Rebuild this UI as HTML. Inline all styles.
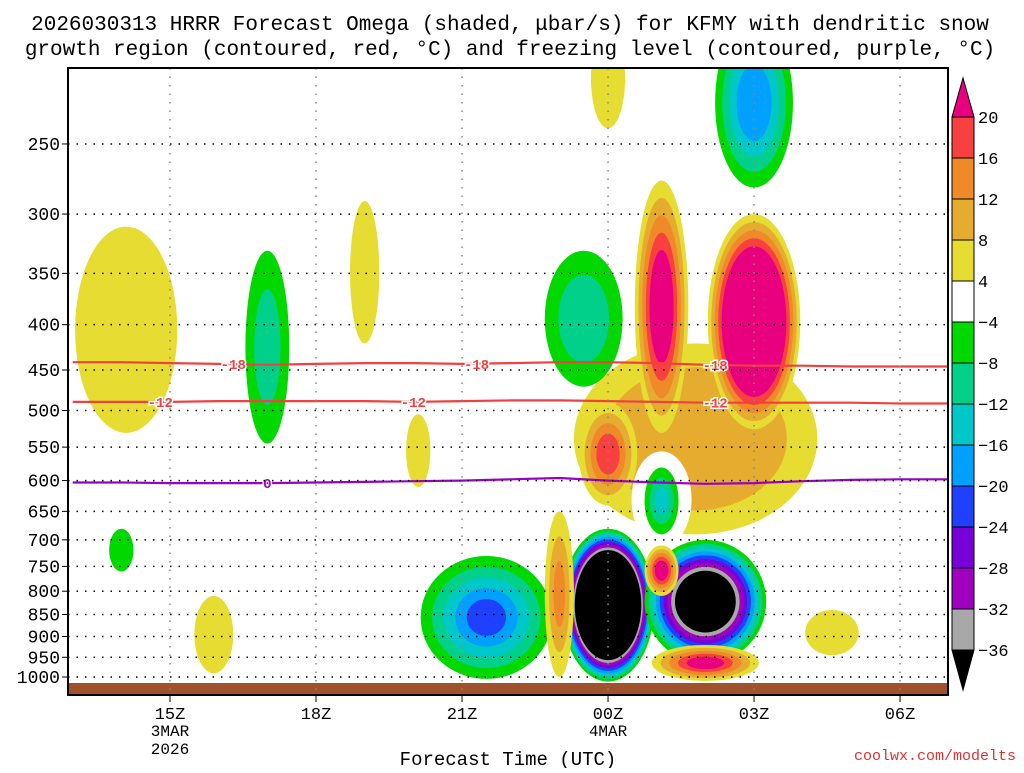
<!DOCTYPE html>
<html><head><meta charset="utf-8"><style>
body{margin:0;background:#fff;width:1024px;height:768px;overflow:hidden}
svg text{font-family:"Liberation Mono","DejaVu Sans Mono",monospace}
</style></head><body>
<svg id="chart" width="1024" height="768" xmlns="http://www.w3.org/2000/svg">
<text x="510" y="30" font-size="21" text-anchor="middle">2026030313 HRRR Forecast Omega (shaded, μbar/s) for KFMY with dendritic snow</text>
<text x="510" y="55" font-size="21" text-anchor="middle">growth region (contoured, red, °C) and freezing level (contoured, purple, °C)</text>
<g id="plot"></g>
<text x="508" y="765" font-size="19" text-anchor="middle">Forecast Time (UTC)</text>
<text x="1016" y="760" font-size="15" fill="#e03030" text-anchor="end">coolwx.com/modelts</text>
<g id="cbar"></g>
</svg>
<script>
const pLevels=[250,300,350,400,450,500,550,600,650,700,750,800,850,900,950,1000];
const xTickHours=[2,5,8,11,14,17];
const xTickLabels=["15Z","18Z","21Z","00Z","03Z","06Z"];
const palette=["#000000","#a8a8a8","#a000c0","#7800d8","#2040ff","#00a0ff","#00c8c8","#00d08a","#00d800","#ffffff","#e6dc32","#e6ac30","#f08a28","#f84040","#e8007f"];
const cbarLabels=["20","16","12","8","4","\u22124","\u22128","\u221212","\u221216","\u221220","\u221224","\u221228","\u221232","\u221236"];
// blobs: forecast hour center, top/bottom pressure, half-width (hours), outer and inner palette index, core relative size
const blobTime=[1.1,4.0,6.0,7.1,1.0,2.9,11.0,12.8,10.5,12.1,14.0,14.0,11.0,12.1,11.0,13.0,8.5,10.0,12.1,13.0,15.6];
const blobPTop=[310,330,290,505,680,810,185,420,330,275,180,300,490,580,680,700,730,650,710,920,840];
const blobPBot=[530,545,420,610,760,990,240,690,470,530,280,525,640,690,1012,965,1005,1000,810,1010,945];
const blobHalfW=[1.05,0.45,0.3,0.25,0.25,0.4,0.35,2.5,0.8,0.55,0.8,0.95,0.6,0.35,0.95,1.25,1.35,0.3,0.35,1.1,0.55];
const blobOuter=[10,8,10,10,8,10,10,10,8,10,8,10,10,8,8,8,8,10,10,10,10];
const blobInner=[10,7,10,10,8,10,10,11,7,14,5,14,13,6,0,0,4,12,14,14,10];
const blobCore=[1,0.6,1,1,1,1,1,0.75,0.65,0.45,0.45,0.7,0.4,0.4,0.72,0.5,0.3,0.4,0.4,0.35,1];
// temperature contour lines (pressure at each forecast hour 0..18)
const lineHours=[0,1,2,3,4,5,6,7,8,9,10,11,12,13,14,15,16,17,18];
const isoM18=[441,441,442,443,444,443,442,442,443,442,441,441,442,444,445,445,446,446,446];
const isoM12=[489,489,489,488,488,488,488,489,488,487,487,488,489,490,490,490,490,491,491];
const iso0=[603,603,604,604,604,603,602,601,600,598,596,600,603,605,604,601,599,598,598];
const isoLabels=[["-18",3.3,"m18"],["-18",8.3,"m18"],["-18",13.2,"m18"],["-12",1.8,"m12"],["-12",7.0,"m12"],["-12",13.2,"m12"],["0",4.0,"z"]];

const NS="http://www.w3.org/2000/svg";
const L=68,R=948,T=68,B=695;
function xh(h){return 170+(h-2)*48.67;}
function yp(p){return 677-Math.log(1000/p)*384.5;}
function mk(tag,attrs,parent){const e=document.createElementNS(NS,tag);for(const k in attrs)e.setAttribute(k,attrs[k]);parent.appendChild(e);return e;}
const plot=document.getElementById('plot');
const defs=mk('defs',{},plot);
const cp=mk('clipPath',{id:'clip'},defs);mk('rect',{x:L,y:T,width:R-L,height:B-T},cp);
const fg=mk('g',{'clip-path':'url(#clip)'},plot);


for(let i=0;i<blobTime.length;i++){
  const o=blobOuter[i],inn=blobInner[i];
  const step=inn>=o?1:-1;const n=Math.abs(inn-o)+1;
  const cx=xh(blobTime[i]);const y1=yp(blobPTop[i]),y2=yp(blobPBot[i]);
  const cy=(y1+y2)/2,ry=(y2-y1)/2,rx=blobHalfW[i]*48.67;
  for(let k=0;k<n;k++){
    const s=n>1?1-(1-blobCore[i])*k/(n-1):1;
    const e=mk('ellipse',{cx:cx,cy:cy,rx:rx*s,ry:ry*s,fill:palette[o+step*k]},fg);
    
    
  }
  if(i===7){
    const h=mk('ellipse',{cx:xh(12.1),cy:yp(630),rx:30,ry:48,fill:'#fff'},fg);
    
    
  }
}
const gr=mk('rect',{x:L,y:683,width:R-L,height:B-683,fill:'#a0522d'},fg);


pLevels.forEach(p=>{
  const y=yp(p);
  const g=mk('line',{x1:L,x2:R,y1:y,y2:y,stroke:'#000','stroke-width':1.5,'stroke-dasharray':'1.5 7'},plot);
  
  
  mk('line',{x1:L-6,x2:L,y1:y,y2:y,stroke:'#000'},plot);
  const t=mk('text',{x:L-8,y:y+6,'font-size':18,'text-anchor':'end'},plot);t.textContent=p;
  
  
});
xTickHours.forEach((h,i)=>{
  const x=xh(h);
  const g=mk('line',{x1:x,x2:x,y1:T,y2:B,stroke:'#888','stroke-width':1.5,'stroke-dasharray':'1.5 7'},plot);
  
  
  mk('line',{x1:x,x2:x,y1:B,y2:B+7,stroke:'#000'},plot);
  const t=mk('text',{x:x,y:719,'font-size':17,'text-anchor':'middle'},plot);t.textContent=xTickLabels[i];
  
  
});
[["3MAR",736,2],["2026",754,2],["4MAR",736,11]].forEach(a=>{
  const t=mk('text',{x:xh(a[2]),y:a[1],'font-size':16,'text-anchor':'middle'},plot);t.textContent=a[0];
  
  
});
function drawLine(arr,color,name){
  const d=lineHours.map((h,i)=>(i?'L':'M')+xh(h).toFixed(1)+' '+yp(arr[i]).toFixed(1)).join(' ');
  const p=mk('path',{d:d,fill:'none',stroke:color,'stroke-width':2.2},fg);
  
  
}
drawLine(isoM18,'#f04040','isotherm-minus18');
drawLine(isoM12,'#f04040','isotherm-minus12');
drawLine(iso0,'#9a00c8','freezing-level');
isoLabels.forEach(a=>{
  const arr=a[2]==='m18'?isoM18:a[2]==='m12'?isoM12:iso0;
  const h=a[1];const p=arr[Math.round(h)];
  const col=a[2]==='z'?'#9a00c8':'#f04040';
  const t=mk('text',{x:xh(h),y:yp(p)+5,'font-size':14,'font-weight':'bold',fill:col,'text-anchor':'middle',stroke:'#fff','stroke-width':3,'paint-order':'stroke'},fg);t.textContent=a[0];
  
  
});
const fr=mk('rect',{x:L,y:T,width:R-L,height:B-T,fill:'none',stroke:'#000','stroke-width':2},plot);


const cb=document.getElementById('cbar');
const cbColors=[13,12,11,10,9,8,7,6,5,4,3,2,1];
const bx=952,bw=22,top0=117,bh=41;
const tu=mk('polygon',{points:`${bx},${top0} ${bx+bw},${top0} ${bx+bw/2},78`,fill:palette[14],stroke:'#000'},cb);


cbColors.forEach((c,k)=>{
  const r=mk('rect',{x:bx,y:top0+k*bh,width:bw,height:bh,fill:palette[c],stroke:'#000'},cb);
  
  
});
const bot=top0+cbColors.length*bh;
const td=mk('polygon',{points:`${bx},${bot} ${bx+bw},${bot} ${bx+bw/2},690`,fill:'#000',stroke:'#000'},cb);


cbarLabels.forEach((s,k)=>{
  const t=mk('text',{x:978,y:top0+k*bh+6,'font-size':17},cb);t.textContent=s;
  
  
});
</script>
</body></html>
